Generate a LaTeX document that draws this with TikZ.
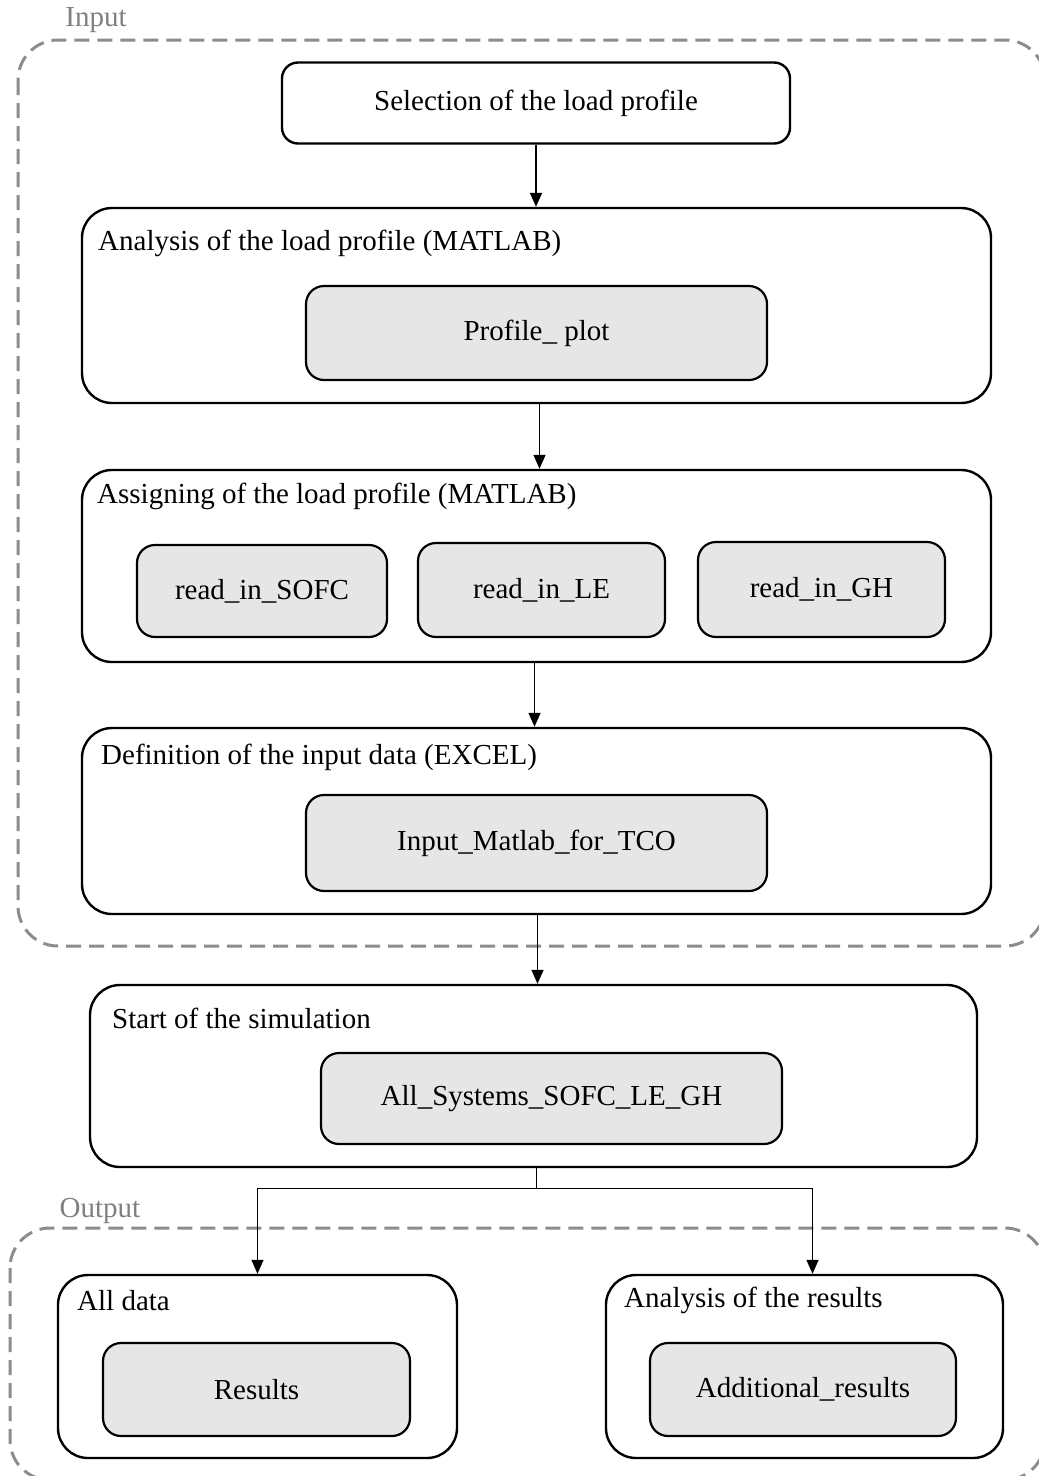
\documentclass[tikz,border=0pt]{standalone}
\usepackage{fontspec}
\setmainfont{Liberation Serif}
\usetikzlibrary{arrows.meta, positioning, calc}
\definecolor{boxgray}{HTML}{E6E6E6}
\definecolor{framegray}{HTML}{8C8C8C}
\definecolor{labelgray}{HTML}{7F7F7F}

\begin{document}
\begin{tikzpicture}[x=1pt, y=-1pt, font=\fontsize{29}{34}\selectfont,
    stage/.style n args={2}{draw, line width=2.4pt, rounded corners=30pt, fill=white,
        minimum width=#1, minimum height=#2, inner sep=0pt},
    script/.style n args={2}{draw, line width=2.2pt, rounded corners=18pt, fill=boxgray,
        minimum width=#1, minimum height=#2, inner sep=0pt},
    heading/.style={anchor=west, inner sep=0pt},
    group/.style={draw=framegray, line width=3pt, dash pattern=on 15pt off 8pt, rounded corners=40pt},
    grouplabel/.style={text=labelgray, inner sep=0pt},
    flow/.style={line width=1.4pt, -{Triangle[length=14pt, width=12pt]}},
    flowline/.style={line width=1.4pt}]
    \useasboundingbox (0,0) rectangle (1039,1476);

    % dashed groups
    \draw[group] (18,40) rectangle (1045,946);
    \node[grouplabel] (inlabel) at (96,20) {Input};
    \draw[group] (10,1228) rectangle (1045,1480);
    \node[grouplabel] (outlabel) at (100,1211) {Output};

    \node[stage={508pt}{81pt}, rounded corners=16pt] (sel) at (536,103) {Selection of the load profile};

    \node[stage={909pt}{195pt}] (ana) at (536.5,305.5) {};
    \node[heading] (anatitle) at (98,243) {Analysis of the load profile (MATLAB)};
    \node[script={461pt}{94pt}] (prof) at (536.5,333) {Profile\_ plot};

    \node[stage={909pt}{192pt}] (asg) at (536.5,566) {};
    \node[heading] (asgtitle) at (97,496) {Assigning of the load profile (MATLAB)};
    \node[script={250pt}{92pt}] (rsofc) at (262,591) {read\_in\_SOFC};
    \node[script={247pt}{94pt}] (rle) at (541.5,590) {read\_in\_LE};
    \node[script={247pt}{95pt}] (rgh) at (821.5,589.5) {read\_in\_GH};

    \node[stage={909pt}{186pt}] (def) at (536.5,821) {};
    \node[heading] (deftitle) at (101,757) {Definition of the input data (EXCEL)};
    \node[script={461pt}{96pt}] (itco) at (536.5,843) {Input\_Matlab\_for\_TCO};

    \node[stage={887pt}{182pt}] (sim) at (533.5,1076) {};
    \node[heading] (simtitle) at (112,1018) {Start of the simulation};
    \node[script={461pt}{91pt}] (allsys) at (551.5,1098.5) {All\_Systems\_SOFC\_LE\_GH};

    \node[stage={399pt}{183pt}] (alld) at (257.5,1366.5) {};
    \node[heading] (alldtitle) at (77,1301) {All data};
    \node[script={307pt}{93pt}] (res) at (256.5,1389.5) {Results};

    \node[stage={397pt}{183pt}] (anr) at (804.5,1366.5) {};
    \node[heading] (anrtitle) at (624,1300) {Analysis of the results};
    \node[script={306pt}{93pt}] (addr) at (803,1389.5) {Additional\_results};

    \path[flow]
        (sel.south) edge (sel.south |- ana.north)
        ([xshift=3pt]ana.south) edge ([xshift=3pt]ana.south |- asg.north)
        ([xshift=-2pt]asg.south) edge ([xshift=-2pt]asg.south |- def.north)
        ([xshift=1pt]def.south) edge ([xshift=1pt]def.south |- sim.north)
    ;
    \draw[flowline] ([xshift=3pt]sim.south) -- ++(0,20) coordinate (split);
    \draw[flow] (split) -| (alld.north);
    \draw[flow] (split) -| ([xshift=8pt]anr.north);
\end{tikzpicture}
\end{document}
